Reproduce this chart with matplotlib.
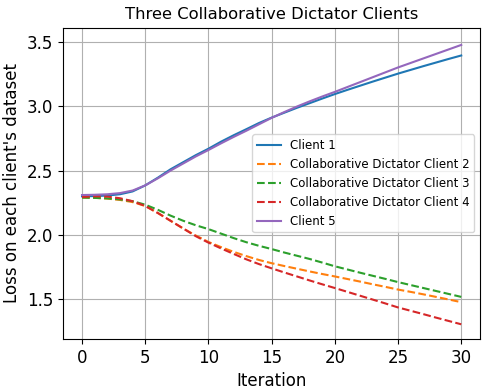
import numpy as np
import matplotlib
matplotlib.use("Agg")
import matplotlib.pyplot as plt

iterations = list(range(31))

client1 = [2.300, 2.302, 2.306, 2.316, 2.338, 2.385, 2.445, 2.510, 2.565, 2.620,
           2.670, 2.725, 2.775, 2.822, 2.870, 2.912, 2.950, 2.988, 3.024, 3.060,
           3.095, 3.128, 3.160, 3.192, 3.223, 3.254, 3.283, 3.312, 3.340, 3.368,
           3.395]
client2 = [2.290, 2.288, 2.282, 2.272, 2.255, 2.225, 2.170, 2.110, 2.050, 1.995,
           1.945, 1.905, 1.868, 1.835, 1.805, 1.780, 1.758, 1.737, 1.716, 1.696,
           1.677, 1.657, 1.637, 1.616, 1.596, 1.575, 1.557, 1.538, 1.518, 1.498,
           1.477]
client3 = [2.290, 2.288, 2.284, 2.276, 2.262, 2.235, 2.195, 2.150, 2.110, 2.075,
           2.045, 2.010, 1.975, 1.943, 1.915, 1.890, 1.863, 1.838, 1.813, 1.785,
           1.756, 1.731, 1.706, 1.682, 1.658, 1.633, 1.610, 1.587, 1.564, 1.541,
           1.518]
client4 = [2.295, 2.300, 2.298, 2.285, 2.262, 2.225, 2.170, 2.110, 2.050, 1.990,
           1.940, 1.895, 1.852, 1.810, 1.773, 1.740, 1.708, 1.677, 1.646, 1.616,
           1.587, 1.557, 1.527, 1.497, 1.467, 1.436, 1.410, 1.384, 1.357, 1.331,
           1.305]
client5 = [2.310, 2.312, 2.316, 2.325, 2.345, 2.385, 2.440, 2.500, 2.555, 2.610,
           2.660, 2.712, 2.762, 2.810, 2.860, 2.910, 2.955, 2.998, 3.038, 3.076,
           3.112, 3.150, 3.188, 3.226, 3.264, 3.302, 3.337, 3.372, 3.407, 3.442,
           3.477]

fig = plt.figure(figsize=(4.89, 3.92), dpi=100)
ax = fig.add_axes([0.129, 0.135, 0.853, 0.794])

ax.plot(iterations, client1, '-', color='tab:blue', label='Client 1')
ax.plot(iterations, client2, '--', color='tab:orange', label='Collaborative Dictator Client 2')
ax.plot(iterations, client3, '--', color='tab:green', label='Collaborative Dictator Client 3')
ax.plot(iterations, client4, '--', color='tab:red', label='Collaborative Dictator Client 4')
ax.plot(iterations, client5, '-', color='tab:purple', label='Client 5')

ax.set_title('Three Collaborative Dictator Clients', fontsize=11.8)
ax.set_xlabel('Iteration', fontsize=12)
ax.set_ylabel("Loss on each client's dataset", fontsize=12)
ax.tick_params(labelsize=12)
ax.set_xticks([0, 5, 10, 15, 20, 25, 30])
ax.set_yticks([1.5, 2.0, 2.5, 3.0, 3.5])
ax.set_ylim(1.19, 3.61)
ax.grid(True)
ax.legend(loc='center right', fontsize=8.5)

fig.savefig('out.png', dpi=100)
